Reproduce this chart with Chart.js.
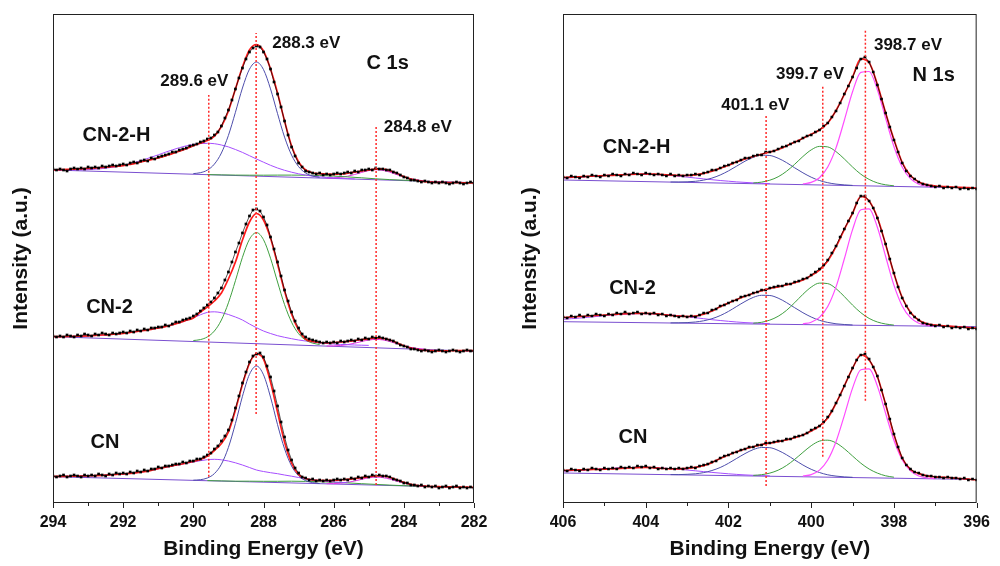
<!DOCTYPE html>
<html><head><meta charset="utf-8">
<script src="https://cdn.jsdelivr.net/npm/chart.js@4.4.1/dist/chart.umd.min.js"></script>
<style>
html,body{margin:0;padding:0;background:#fff;}
#wrap{position:relative;width:1000px;height:566px;overflow:hidden;}
.box{position:absolute;top:0;width:500px;height:566px;}
</style></head><body>
<div id="wrap">
<div class="box" style="left:0"><canvas id="c1" width="500" height="566"></canvas></div>
<div class="box" style="left:500px"><canvas id="c2" width="500" height="566"></canvas></div>
</div>
<script>
const F = "'Liberation Sans', Arial, Helvetica, sans-serif";
const samples = ['CN-2-H', 'CN-2', 'CN'];

// ---------- C 1s (294 -> 282 eV) ----------
const c1sStart = 294, c1sEnd = 282;
const c1s_cn2h_data = [334,333,334,333,332,334,335,334,335,334,
 336,335,336,335,337,336,337,338,337,338,
 339,338,340,341,340,342,343,342,345,344,
 346,347,348,349,351,351,353,354,355,357,
 358,359,361,362,364,365,368,371,377,385,
 393,403,414,425,435,444,451,455,457,456,
 451,444,434,421,409,396,382,368,356,347,
 340,336,332,331,330,329,330,328,329,328,
 329,330,329,330,331,330,332,331,333,333,
 334,333,335,334,334,333,333,331,330,328,
 326,325,323,323,322,321,322,321,320,321,
 320,321,320,319,320,321,320,319,320,321,
 320];
const c1s_cn2h_fit = [333.0,333.3,333.6,333.9,334.2, 334.5,335.0,335.5,336.1,336.7,
 337.4,338.7,340.2,341.8,343.4, 345.0,347.0,349.4,351.7,354.4,
 357.2,359.8,362.4,366.8,376.5, 392,414,436,453,458.5,
 452,434,410,382,357, 341,333,330.2,329.3,328.8,
 328.7,329.0,329.8,330.8,332.0, 333.0,333.8,333.8,332.3,329.7,
 326.4,324.0,322.4,321.4,320.9, 320.6,320.5,320.4,320.3,320.2, 320.0];
const c1s_cn2h_blue = [329.4,330.3,332.9,338.9,350.0,367.6,390.7,415.0,433.8,440.9,433.4,414.1,389.4,365.9,347.9,336.4,330.0,326.9,325.6];
const c1s_cn2h_purple = [333.2,333.1,333.1,333.1,333.2,333.4,333.8,334.4,335.3,336.3,337.7,339.3,341.3,343.4,345.8,348.2,350.7,353.1,355.3,357.2,358.6,359.4,359.7,
 359.3,358.0,356.1,353.5,350.6,347.3,344.0,340.8,337.7,335.0,332.7,330.8,329.2,327.9,326.9,326.2,325.5,325.1,324.7,324.4,324.0];
const c1s_cn2h_green = [328.4,328.1,327.9,327.8,327.8,327.9,327.9,327.8,327.5,326.9,326.1,325.2,324.2,323.4,322.8,322.1];
const c1s_cn2h_magenta = [325.0,325.1,325.7,326.8,328.5,330.6,332.4,333.3,332.7,330.9,328.4,326.0,324.2,322.9,322.1];
const c1s_cn2h_base = [333.0, 320.3];

const c1s_cn2_data = [167,166,167,166,168,167,166,168,167,169,
 168,167,169,168,170,169,168,170,169,170,
 171,170,172,171,173,172,174,173,175,175,
 176,176,178,177,179,181,181,183,184,185,
 187,189,192,195,198,201,205,210,215,223,
 231,241,251,260,270,279,287,293,294,292,
 286,278,266,254,241,227,213,202,191,182,
 175,169,166,164,163,162,161,160,161,160,
 161,160,162,161,162,163,162,164,163,165,
 164,166,165,166,165,164,163,162,160,158,
 157,156,154,154,153,152,153,152,151,152,
 153,152,151,152,153,152,151,152,153,152,
 152];
const c1s_cn2_fit = [166.3,166.4,166.5,166.7,166.9, 167.2,167.6,168.0,168.4,169.0,
 169.6,170.5,171.5,172.6,173.7, 175.0,176.4,178.2,180.4,182.7,
 185.0,191.0,196.0,202.0,210.0, 224.0,241.0,263.0,281.0,289.5,
 283.0,265.0,239.0,212.0,189.0, 173.0,164.0,161.5,160.5,160.2,
 160.5,161.0,161.7,162.4,163.3, 164.2,165.0,164.7,163.0,160.2,
 157.2,155.0,153.5,152.7,152.3, 152.2,152.2,152.3,152.3,152.4, 152.4];
const c1s_cn2_green = [162.5,163.4,166.1,172.0,183.0,200.2,222.3,245.7,263.7,270.4,263.3,244.8,221.0,198.4,180.8,169.3,163.0,159.9,158.5];
const c1s_cn2_purple = [166.3,166.4,166.5,166.7,166.9,167.2,167.6,168.0,168.4,169.0,169.6,170.5,171.5,172.6,173.7,175.0,176.4,178.2,180.3,182.5,185.2,188.2,190.6,
 191.2,190.3,188.5,186.0,183.0,179.0,175.3,172.0,169.5,167.3,165.7,164.3,163.0,162.0,161.0,160.2,159.5,159.0,158.6,158.3,158.0,157.8,157.6];
const c1s_cn2_magenta = [157.0,157.1,157.5,158.4,159.8,161.5,163.0,163.6,163.1,161.5,159.3,157.2,155.6,154.5,153.8];
const c1s_cn2_base = [166.3, 151.8];

const c1s_cn_data = [27,26,27,28,26,27,28,27,26,28,
 27,28,27,29,28,27,29,28,30,29,
 30,29,31,30,32,31,33,32,34,34,
 36,35,37,37,38,39,39,41,40,42,
 42,44,44,46,48,50,54,57,62,67,
 73,83,95,107,120,131,141,147,149,150,
 146,137,126,112,97,81,66,53,43,35,
 30,26,25,23,24,22,23,22,23,22,
 23,24,23,24,23,25,24,26,25,27,
 26,28,27,28,27,27,26,24,23,22,
 20,20,18,18,17,18,16,17,16,17,
 15,16,17,15,16,17,15,16,15,16,
 15];
const c1s_cn_fit = [26.5,26.6,26.7,26.8,27.0, 27.2,27.4,27.7,28.1,28.5,
 29.0,29.7,30.4,31.4,32.7, 34.4,35.8,37.2,38.5,40.0,
 41.6,43.5,47.0,52.5,59.5, 71,93,118.5,139.7,149,
 144,121,91,61,40, 28.5,24.5,23.0,22.6,22.5,
 22.7,23.0,23.6,24.4,25.3, 26.2,27.0,27.0,25.7,23.2,
 20.6,18.7,17.5,16.9,16.5, 16.3,16.1,16.0,15.9,15.8, 15.7];
const c1s_cn_blue = [22.8,23.3,25.0,29.4,38.8,55.6,79.5,106.7,128.6,137.0,128.2,105.9,78.4,54.2,37.0,27.2,22.4,20.4,19.5];
const c1s_cn_purple = [26.5,26.6,26.7,26.8,27.0,27.2,27.4,27.7,28.1,28.5,29.0,29.7,30.4,31.4,32.7,34.2,35.6,37.0,38.3,39.7,41.0,42.3,43.3,
 43.7,43.2,42.0,40.2,38.0,35.5,33.0,31.5,30.3,29.3,28.0,26.8,25.5,24.3,23.2,22.3,21.6,21.0,20.6,20.3];
const c1s_cn_green = [22.4,22.1,21.8,21.8,21.7,21.7,21.8,21.6,21.3,20.8,20.1,19.3,18.6,17.9,17.3,16.9];
const c1s_cn_magenta = [19.3,19.4,19.8,20.7,22.0,23.7,25.2,25.9,25.4,23.9,21.9,19.9,18.5,17.5,16.8];
const c1s_cn_base = [26.3, 15.3];

const c1sTicks = [294, 292, 290, 288, 286, 284, 282];
const c1sMarkerE = [289.56, 288.21, 284.79];
const c1sMarkerLow = [26.3, 89, 18];
const c1sMarkerHigh = [408, 470, 376];

// ---------- N 1s (406 -> 396 eV) ----------
const n1sStart = 406, n1sEnd = 396;
const n1s_cn2h_data = [326,325,327,326,325,327,326,328,327,326,
 328,327,329,328,327,329,328,330,329,328,
 330,329,328,329,328,327,329,327,328,327,
 328,328,329,328,330,331,333,333,335,337,
 338,340,341,343,345,345,347,348,348,351,
 351,352,354,356,357,359,361,362,365,367,
 368,371,373,377,380,386,392,400,409,417,
 426,435,444,446,441,431,418,404,390,376,
 363,351,340,332,327,324,321,319,318,317,
 316,317,315,316,315,316,314,315,314,315,
 314];
const n1s_cn2h_fit = [325.5,325.8,326.2,326.6,327.0, 327.3,327.7,328.1,328.5,328.8,
 329.0,328.8,328.4,328.0,327.6, 327.5,328.2,329.6,331.8,334.7,
 337.7,341.3,344.0,346.5,348.8, 351.0,353.5,357.0,360.8,364.7,
 368.8,373.0,380.0,392.5,408.5, 426.0,444.2,440.5,418.5,390.0,
 363.5,340.5,327.5,321.0,318.2, 317.0,316.5,316.0,315.6,315.3, 315.0];
const n1s_cn2h_pink = [319.1,320.6,325.3,336.0,355.1,382.5,411.2,430.6,431.5,413.3,384.6,356.5,336.0,324.3,318.8,316.8,316.0];
const n1s_cn2h_green = [320.0,320.9,322.8,326.2,331.6,338.7,346.5,353.1,356.6,356.1,351.4,344.1,336.0,328.8,323.6,320.1,318.2,317.2];
const n1s_cn2h_blue = [321.0,321.0,321.2,321.7,322.9,324.9,328.0,332.1,336.9,341.8,345.7,347.8,347.5,344.8,340.5,335.2,330.2,325.8,322.5,320.3,318.9,318.1,317.6];
const n1s_cn2h_purple = [325.0,325.3,325.8,326.4,327.0,327.5,328.0,328.5,328.7,328.9,328.8,328.5,328.1,327.5,326.8,325.9,325.0,324.1,323.3,322.5,321.8,321.1,320.6,320.1,319.7,319.4];
const n1s_cn2h_base = [323.0, 315.0];

const n1s_cn2_data = [186,185,187,186,188,186,188,187,189,188,
 187,189,188,190,189,191,189,190,191,189,
 190,189,190,188,189,187,188,187,186,187,
 186,187,186,188,190,190,193,194,197,198,
 200,202,203,206,207,208,210,211,213,213,
 215,216,217,217,219,219,221,222,224,225,
 228,231,234,238,243,250,257,266,274,282,
 290,300,307,307,302,295,285,272,259,244,
 230,216,205,197,190,186,183,180,179,178,
 177,178,176,177,175,176,175,176,174,175,
 174];
const n1s_cn2_fit = [185.5,186.0,186.5,187.0,187.5, 188.0,188.5,189.0,189.4,189.7,
 189.7,189.3,188.5,187.7,187.0, 186.5,187.0,188.7,192.0,196.3,
 200.0,203.5,206.8,209.7,212.2, 214.5,216.2,218.0,220.3,223.0,
 227.5,233.0,242.0,256.3,273.5, 289.7,306.5,302.0,285.5,258.5,
 229.5,205.5,190.7,182.7,179.2, 178.0,177.2,176.6,176.0,175.5, 175.0];
const n1s_cn2_pink = [179.1,180.8,185.6,196.5,216.1,244.0,273.4,293.2,294.2,275.7,246.5,217.9,197.1,185.3,179.8,177.7,177.0];
const n1s_cn2_green = [179.8,180.7,182.9,186.7,192.5,200.3,208.7,215.9,219.9,219.4,214.4,206.5,197.9,190.3,184.6,181.0,179.0,177.9];
const n1s_cn2_blue = [180.1,180.2,180.4,181.0,182.2,184.3,187.4,191.6,196.6,201.5,205.6,207.7,207.5,204.9,200.5,195.3,190.3,186.0,182.7,180.6,179.2,178.5,178.0];
const n1s_cn2_purple = [183.7,184.3,184.9,185.7,186.5,187.3,188.0,188.6,189.0,189.3,189.3,189.1,188.6,188.0,187.2,186.3,185.3,184.3,183.3,182.5,181.7,181.0,180.4,180.0,179.6,179.3];
const n1s_cn2_base = [181.3, 176.3];

const n1s_cn_data = [33,32,34,33,32,34,33,35,34,33,
 35,34,35,34,36,35,36,35,37,36,
 37,35,36,34,35,34,35,34,35,34,
 35,36,35,37,38,39,41,42,45,47,
 48,50,51,53,54,56,56,58,58,60,
 60,61,62,62,64,64,66,67,68,70,
 73,75,77,81,86,92,100,108,117,126,
 135,143,148,149,144,136,127,113,99,84,
 69,56,45,38,34,31,30,28,27,27,
 26,26,25,26,25,25,24,25,23,24,
 23];
const n1s_cn_fit = [32.5,32.8,33.1,33.4,33.6, 33.8,34.2,34.6,35.0,35.4,
 35.6,35.2,34.6,34.2,34.2, 34.7,35.7,37.4,40.4,44.5,
 48.0,51.3,54.0,56.3,58.4, 60.0,61.4,63.0,65.2,68.0,
 72.0,77.0,85.0,99.7,117.0, 134.7,148.0,143.0,126.5,98.5,
 68.5,45.0,33.7,29.4,27.2, 26.2,25.7,25.2,24.5,23.8, 23.0];
const n1s_cn_pink = [26.9,28.4,32.9,43.0,61.3,87.4,114.9,133.3,134.2,116.9,89.5,62.8,43.3,32.1,27.0,25.0,24.4];
const n1s_cn_green = [27.6,28.3,29.9,32.8,37.4,43.6,50.6,57.3,61.9,62.8,60.1,54.3,47.0,39.8,34.0,29.9,27.2,25.8];
const n1s_cn_blue = [28.4,28.4,28.7,29.2,30.4,32.5,35.5,39.7,44.6,49.4,53.4,55.5,55.3,52.6,48.3,43.1,38.0,33.7,30.5,28.2,26.9,26.1,25.7];
const n1s_cn_purple = [31.8,32.2,32.6,33.2,33.8,34.3,34.8,35.2,35.5,35.6,35.6,35.4,34.9,34.4,33.8,33.0,32.2,31.4,30.6,29.9,29.2,28.6,28.1,27.7,27.4,27.1];
const n1s_cn_base = [30.0, 23.5];

const n1sTicks = [406, 404, 402, 400, 398, 396];
const n1sMarkerE = [401.09, 399.72, 398.69];
const n1sMarkerLow = [17, 46.3, 102.3];
const n1sMarkerHigh = [388, 417, 473.7];

// ---------- colours ----------
const COL = {
  data:'#000000', fit:'#ff1a1a', blue:'#4d4dab', purple:'#a64dff',
  green:'#3f9f3f', magenta:'#e633e6', pink:'#ff4dff', base:'#7a4fd0', marker:'#ff2a2a'
};

function series(start, step, vals) {
  return vals.map((v, i) => ({ x: Math.round((start + i * step) * 100) / 100, y: v }));
}
function lineDs(data, color, width) {
  return { data, borderColor: color, borderWidth: width, pointRadius: 0, fill: false,
           cubicInterpolationMode: 'monotone', tension: 0.4 };
}

function buildPanel(p) {
  const ds = [];
  p.markerE.forEach((e, i) => ds.push({
    data: [{ x: e, y: p.markerLow[i] }, { x: e, y: p.markerHigh[i] }],
    borderColor: COL.marker, borderWidth: 1.5, borderDash: [2, 2], pointRadius: 0, tension: 0, fill: false }));
  p.spectra.forEach(s => ds.push({
    data: series(p.start, -0.1, s.data), showLine: true, borderWidth: 0.8, borderColor: 'rgba(0,0,0,0.85)',
    tension: 0, pointStyle: 'rect', pointRadius: 1.9,
    pointBackgroundColor: COL.data, pointBorderWidth: 0 }));
  p.spectra.forEach(s => ds.push(lineDs(series(p.start, -0.2, s.fit), COL.fit, 1.7)));
  p.spectra.forEach(s => s.comps.forEach(c => ds.push(lineDs(series(c.start, c.step, c.vals), c.color, c.width || 1))));
  p.spectra.forEach(s => ds.push(lineDs([{ x: p.start, y: s.base[0] }, { x: p.end, y: s.base[1] }], COL.base, 1)));
  return ds;
}

const framePlugin = {
  id: 'frameText',
  afterDatasetsDraw(chart, args, opts) {
    const { ctx, chartArea: a, scales: { x, y } } = chart;
    ctx.save();
    ctx.strokeStyle = '#222'; ctx.lineWidth = 1;
    ctx.strokeRect(a.left + 0.5, a.top + 0.5, a.right - a.left - 1, a.bottom - a.top - 1);
    const lo = Math.min(x.min, x.max), hi = Math.max(x.min, x.max);
    for (let e = lo; e <= hi + 1e-6; e += 1) {
      const px = Math.round(x.getPixelForValue(e)) + 0.5;
      const len = (Math.round(e) % 2 === 0) ? 5 : 3;
      ctx.beginPath(); ctx.moveTo(px, a.bottom); ctx.lineTo(px, a.bottom + len); ctx.stroke();
    }
    ctx.fillStyle = '#111'; ctx.textAlign = 'center'; ctx.textBaseline = 'middle';
    (opts.labels || []).forEach(L => {
      ctx.font = 'bold ' + L.size + 'px ' + F;
      ctx.fillText(L.text, x.getPixelForValue(L.x), y.getPixelForValue(L.y));
    });
    ctx.restore();
  }
};

function makeChart(id, p, yWidth, yTitlePad, padRight, labels) {
  return new Chart(document.getElementById(id), {
    type: 'line',
    data: { datasets: buildPanel(p) },
    options: {
      responsive: false, animation: false, events: [], devicePixelRatio: 1,
      layout: { padding: { top: 14, right: padRight, bottom: 0, left: 0 } },
      plugins: { legend: { display: false }, tooltip: { enabled: false }, frameText: { labels } },
      scales: {
        x: {
          type: 'linear', reverse: true, min: p.end, max: p.start,
          afterBuildTicks: s => { s.ticks = p.ticks.map(v => ({ value: v })); },
          ticks: { autoSkip: false, maxRotation: 0, padding: 10, color: '#111',
                   font: { family: F, size: 16, weight: 'bold' }, callback: v => String(v) },
          grid: { display: false, drawTicks: false }, border: { display: false },
          title: { display: true, text: 'Binding Energy (eV)', color: '#111',
                   font: { family: F, size: 21, weight: 'bold' }, padding: { top: 0, bottom: 4 } },
          afterFit: s => { s.height = 63; }
        },
        y: {
          min: 0, max: 489,
          ticks: { display: false }, grid: { display: false, drawTicks: false }, border: { display: false },
          title: { display: true, text: 'Intensity (a.u.)', color: '#111',
                   font: { family: F, size: 21, weight: 'bold' }, padding: { top: yTitlePad, bottom: 0 } },
          afterFit: s => { s.width = yWidth; }
        }
      }
    },
    plugins: [framePlugin]
  });
}

const c1sPanel = {
  start: c1sStart, end: c1sEnd, ticks: c1sTicks,
  markerE: c1sMarkerE, markerLow: c1sMarkerLow, markerHigh: c1sMarkerHigh,
  spectra: [
    { data: c1s_cn2h_data, fit: c1s_cn2h_fit, base: c1s_cn2h_base, comps: [
      { start: 290.0, step: -0.2, vals: c1s_cn2h_blue, color: COL.blue },
      { start: 294.0, step: -0.2, vals: c1s_cn2h_purple, color: COL.purple },
      { start: 289.6, step: -0.4, vals: c1s_cn2h_green, color: COL.green },
      { start: 286.2, step: -0.2, vals: c1s_cn2h_magenta, color: COL.magenta } ] },
    { data: c1s_cn2_data, fit: c1s_cn2_fit, base: c1s_cn2_base, comps: [
      { start: 290.0, step: -0.2, vals: c1s_cn2_green, color: COL.green },
      { start: 294.0, step: -0.2, vals: c1s_cn2_purple, color: COL.purple },
      { start: 286.2, step: -0.2, vals: c1s_cn2_magenta, color: COL.magenta } ] },
    { data: c1s_cn_data, fit: c1s_cn_fit, base: c1s_cn_base, comps: [
      { start: 290.0, step: -0.2, vals: c1s_cn_blue, color: COL.blue },
      { start: 294.0, step: -0.2, vals: c1s_cn_purple, color: COL.purple },
      { start: 289.6, step: -0.4, vals: c1s_cn_green, color: COL.green },
      { start: 286.2, step: -0.2, vals: c1s_cn_magenta, color: COL.magenta } ] }
  ]
};

const n1sPanel = {
  start: n1sStart, end: n1sEnd, ticks: n1sTicks,
  markerE: n1sMarkerE, markerLow: n1sMarkerLow, markerHigh: n1sMarkerHigh,
  spectra: [
    { data: n1s_cn2h_data, fit: n1s_cn2h_fit, base: n1s_cn2h_base, comps: [
      { start: 400.2, step: -0.2, vals: n1s_cn2h_pink, color: COL.pink, width: 1.2 },
      { start: 401.4, step: -0.2, vals: n1s_cn2h_green, color: COL.green },
      { start: 403.4, step: -0.2, vals: n1s_cn2h_blue, color: COL.blue },
      { start: 406.0, step: -0.2, vals: n1s_cn2h_purple, color: COL.purple } ] },
    { data: n1s_cn2_data, fit: n1s_cn2_fit, base: n1s_cn2_base, comps: [
      { start: 400.2, step: -0.2, vals: n1s_cn2_pink, color: COL.pink, width: 1.2 },
      { start: 401.4, step: -0.2, vals: n1s_cn2_green, color: COL.green },
      { start: 403.4, step: -0.2, vals: n1s_cn2_blue, color: COL.blue },
      { start: 406.0, step: -0.2, vals: n1s_cn2_purple, color: COL.purple } ] },
    { data: n1s_cn_data, fit: n1s_cn_fit, base: n1s_cn_base, comps: [
      { start: 400.2, step: -0.2, vals: n1s_cn_pink, color: COL.pink, width: 1.2 },
      { start: 401.4, step: -0.2, vals: n1s_cn_green, color: COL.green },
      { start: 403.4, step: -0.2, vals: n1s_cn_blue, color: COL.blue },
      { start: 406.0, step: -0.2, vals: n1s_cn_purple, color: COL.purple } ] }
  ]
};

const c1sLabels = [
  { text: samples[0], x: 292.19, y: 368, size: 20 },
  { text: samples[1], x: 292.39, y: 195.5, size: 20 },
  { text: samples[2], x: 292.52, y: 61, size: 20 },
  { text: '289.6 eV', x: 289.97, y: 422, size: 17 },
  { text: '288.3 eV', x: 286.78, y: 459.3, size: 17 },
  { text: 'C 1s', x: 284.46, y: 439.3, size: 20 },
  { text: '284.8 eV', x: 283.6, y: 375.2, size: 17 }
];
const n1sLabels = [
  { text: samples[0], x: 404.22, y: 355.5, size: 20 },
  { text: samples[1], x: 404.32, y: 214.7, size: 20 },
  { text: samples[2], x: 404.31, y: 66, size: 20 },
  { text: '401.1 eV', x: 401.35, y: 398, size: 17 },
  { text: '399.7 eV', x: 400.03, y: 428.3, size: 17 },
  { text: '398.7 eV', x: 397.66, y: 458, size: 17 },
  { text: 'N 1s', x: 397.04, y: 427.2, size: 20 }
];

makeChart('c1', c1sPanel, 53, 9, 26, c1sLabels);
makeChart('c2', n1sPanel, 63, 18, 17, n1sLabels);
</script>
</body></html>
